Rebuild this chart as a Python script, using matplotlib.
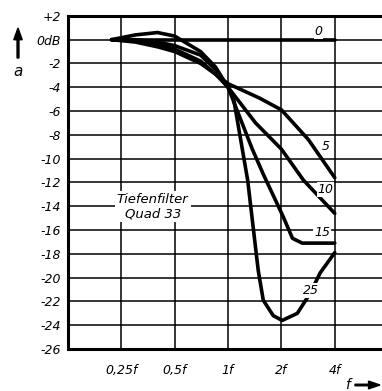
import numpy as np
import matplotlib.pyplot as plt
from matplotlib import rcParams
rcParams['font.family'] = ['Liberation Sans Narrow', 'DejaVu Sans']
rcParams['font.style'] = 'italic'
rcParams['font.size'] = 9

# values (f relative to cutoff, level in dB)
f_0 = [0.22, 4.0]
d_0 = [0.0, 0.0]

f_5 = [0.22, 0.3, 0.4, 0.5, 0.7, 0.85, 1.0, 1.5, 2.0, 2.84, 4.0]
d_5 = [0.0, -0.2, -0.6, -1.0, -2.0, -2.9, -3.7, -4.9, -5.9, -8.4, -11.6]

f_10 = [0.22, 0.3, 0.4, 0.5, 0.7, 0.85, 1.0, 1.43, 2.0, 2.66, 4.0]
d_10 = [0.0, -0.1, -0.4, -0.8, -1.8, -2.9, -4.0, -7.0, -9.2, -11.8, -14.6]

f_15 = [0.22, 0.3, 0.4, 0.5, 0.7, 0.85, 1.0, 1.37, 1.58, 2.05, 2.31, 2.62, 4.0]
d_15 = [0.0, 0.0, -0.2, -0.5, -1.3, -2.5, -4.0, -9.2, -11.3, -14.9, -16.7, -17.1, -17.1]

f_25 = [0.22, 0.3, 0.4, 0.5, 0.7, 0.85, 1.0, 1.07, 1.29, 1.48, 1.58, 1.8, 2.02, 2.46, 2.91, 3.31, 4.0]
d_25 = [0.0, 0.4, 0.6, 0.3, -1.0, -2.3, -4.0, -4.8, -11.8, -19.4, -21.9, -23.2, -23.6, -23.0, -21.3, -19.6, -17.9]

xticks = [0.25, 0.5, 1, 2, 4]
xlabels = ['0,25f', '0,5f', '1f', '2f', '4f']
yticks = list(range(2, -27, -2))
ylabels = ['+2', '0dB'] + ['-%d' % abs(v) for v in yticks[2:]]

fig = plt.figure(figsize=(3.82, 3.91), dpi=100)
ax = fig.add_axes([0.178, 0.1074, 0.838, 0.852])
ax.set_xscale('log', base=2)
ax.set_xlim(0.125, 8)
ax.set_ylim(-26, 2)

# grid
for v in yticks:
    ax.axhline(v, color='k', lw=1.1, zorder=1)
for v in [0.25, 0.5, 1, 2, 4]:
    ax.axvline(v, color='k', lw=1.1, zorder=1)

for fx, dy in [(f_0, d_0), (f_5, d_5), (f_10, d_10), (f_15, d_15), (f_25, d_25)]:
    ax.plot(fx, dy, 'k-', lw=2.6, solid_capstyle='round', solid_joinstyle='round', zorder=3)

# curve labels
for txt, x, y in [('0', 3.23, 0.7), ('5', 3.54, -9.0), ('10', 3.54, -12.6),
                  ('15', 3.40, -16.2), ('25', 2.95, -21.1)]:
    ax.text(x, y, txt, ha='center', va='center', fontsize=9, zorder=4,
            bbox=dict(facecolor='white', edgecolor='none', pad=0.5))

ax.text(0.376, -14.05, 'Tiefenfilter\nQuad 33', ha='center', va='center',
        fontsize=9.5, linespacing=1.1, zorder=4,
        bbox=dict(facecolor='white', edgecolor='none', pad=1.5))

ax.set_xticks(xticks)
ax.set_xticklabels(xlabels)
ax.xaxis.set_minor_locator(plt.NullLocator())
ax.set_yticks(yticks)
ax.set_yticklabels(ylabels)
ax.tick_params(length=0)
ax.tick_params(axis='x', pad=11)
ax.tick_params(axis='y', pad=5)

for s in ['left', 'top', 'bottom']:
    ax.spines[s].set_linewidth(2.2)
ax.spines['right'].set_visible(False)

# axis arrows
fig.text(348 / 382, 1 - 385 / 391, 'f', ha='center', va='center', fontsize=10)
fig.patches.append(plt.matplotlib.patches.FancyArrow(
    355 / 382, 1 - 385 / 391, 25 / 382, 0, width=0.004, head_width=0.02,
    head_length=0.03, length_includes_head=True, color='k', transform=fig.transFigure))
fig.patches.append(plt.matplotlib.patches.FancyArrow(
    18 / 382, 1 - 58 / 391, 0, 30 / 391, width=0.005, head_width=0.022,
    head_length=0.03, length_includes_head=True, color='k', transform=fig.transFigure))
fig.text(18 / 382, 1 - 72 / 391, 'a', ha='center', va='center', fontsize=11)

plt.savefig('out.png', dpi=100)
